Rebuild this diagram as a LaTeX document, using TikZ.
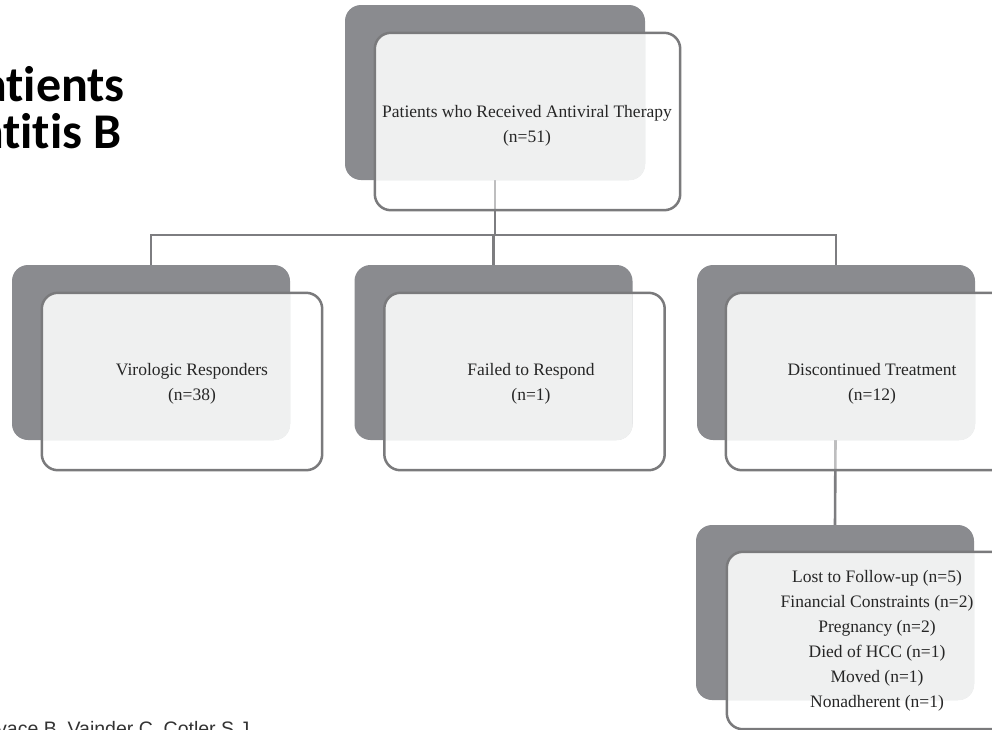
\documentclass[tikz,border=0pt]{standalone}
\usepackage{fontspec}
\setmainfont{Liberation Serif}
\newfontfamily\headfont{Carlito}[RawFeature={-liga;-dlig;-calt;-clig}]
\newfontfamily\citefont{Liberation Sans}
\usetikzlibrary{backgrounds}

\definecolor{backgray}{RGB}{138,139,143}
\definecolor{edgegray}{RGB}{122,122,124}
\definecolor{panelgray}{RGB}{239,240,240}
\definecolor{linegray}{RGB}{125,125,128}

% light panel where a front card lies over its dark back card, then the card edge
\newcommand\cardpanel[2]{%
  \begin{scope}
    \clip[rounded corners=16pt] (#1.south west) rectangle (#1.north east);
    \fill[panelgray, rounded corners=16pt] (#2.south west) rectangle (#2.north east);
  \end{scope}
  \draw[cardedge] (#2.south west) rectangle (#2.north east);
}

\begin{document}
\begin{tikzpicture}[x=1pt, y=-1pt,
  backbox/.style={rectangle, rounded corners=16pt, fill=backgray, draw=none,
    inner sep=0pt, minimum width=278pt, minimum height=175pt},
  frontbox/.style={rectangle, rounded corners=16pt, fill=white, fill opacity=0.5,
    draw=none, inner sep=0pt, minimum width=280pt, minimum height=177pt},
  cardedge/.style={draw=edgegray, line width=2.5pt, rounded corners=16pt},
  conn/.style={draw=linegray, line width=2.6pt},
  cardtext/.style={align=center, inner sep=0pt, text=black!85,
    font=\fontsize{17.5}{25}\selectfont},
  headtext/.style={inner sep=0pt, font=\headfont\bfseries\fontsize{50}{54}\selectfont},
  citetext/.style={inner sep=0pt, text=black!80, font=\citefont\fontsize{19.5}{22}\selectfont}
]
\clip (0,0) rectangle (992,729);

% heading, running off the left edge (t and i kept apart)
\node[headtext, anchor=base east] (head1) at (125,101) {Pat\kern0pt ients};
\node[headtext, anchor=base east] (head2) at (122,148) {Hepat\kern0pt it\kern0pt is B};

% top card
\node[backbox, minimum width=300pt] (tb) at (495,92.5) {};
\node[frontbox, minimum width=305pt] (tf) at (527.5,121.5) {};
\cardpanel{tb}{tf}
\node[cardtext] (tt) at (527,125.5) {Patients who Received Antiviral Therapy\\(n=51)};

% outcome cards
\node[backbox] (b1) at (151,352.5) {};
\node[frontbox] (f1) at (182,381.5) {};
\cardpanel{b1}{f1}
\node[cardtext] (t1) at (192,383.5) {Virologic Responders\\(n=38)};

\node[backbox] (b2) at (493.5,352.5) {};
\node[frontbox] (f2) at (524.5,381.5) {};
\cardpanel{b2}{f2}
\node[cardtext] (t2) at (531,383.5) {Failed to Respond\\(n=1)};

\node[backbox] (b3) at (836,352.5) {};
\node[frontbox] (f3) at (866,381.5) {};
\cardpanel{b3}{f3}
\node[cardtext] (t3) at (872,383.5) {Discontinued Treatment\\(n=12)};

% reasons for discontinuation
\node[backbox] (b4) at (835,612.5) {};
\node[frontbox] (f4) at (867,640.5) {};
\cardpanel{b4}{f4}
\node[cardtext] (t4) at (877,640.5) {Lost to Follow-up (n=5)\\Financial Constraints (n=2)\\Pregnancy (n=2)\\Died of HCC (n=1)\\Moved (n=1)\\Nonadherent (n=1)};

% white page and connectors, behind the cards
\begin{scope}[on background layer]
  \fill[white] (0,0) rectangle (992,729);
  \coordinate (bus) at (0,235);
  \draw[conn] (tb.center) -- (tb.center |- bus);
  \draw[conn] (b1.north) -- (b1.north |- bus) -- (b3.north |- bus) -- (b3.north);
  \draw[conn] (b2.north) -- (b2.north |- bus);
  \draw[conn] (b3.center) -- (b4.north);
\end{scope}

% source line, cut by the lower edge
\node[citetext, anchor=base west] (cite) at (-3,735) {vace B, Vainder C, Cotler S J};
\end{tikzpicture}
\end{document}
